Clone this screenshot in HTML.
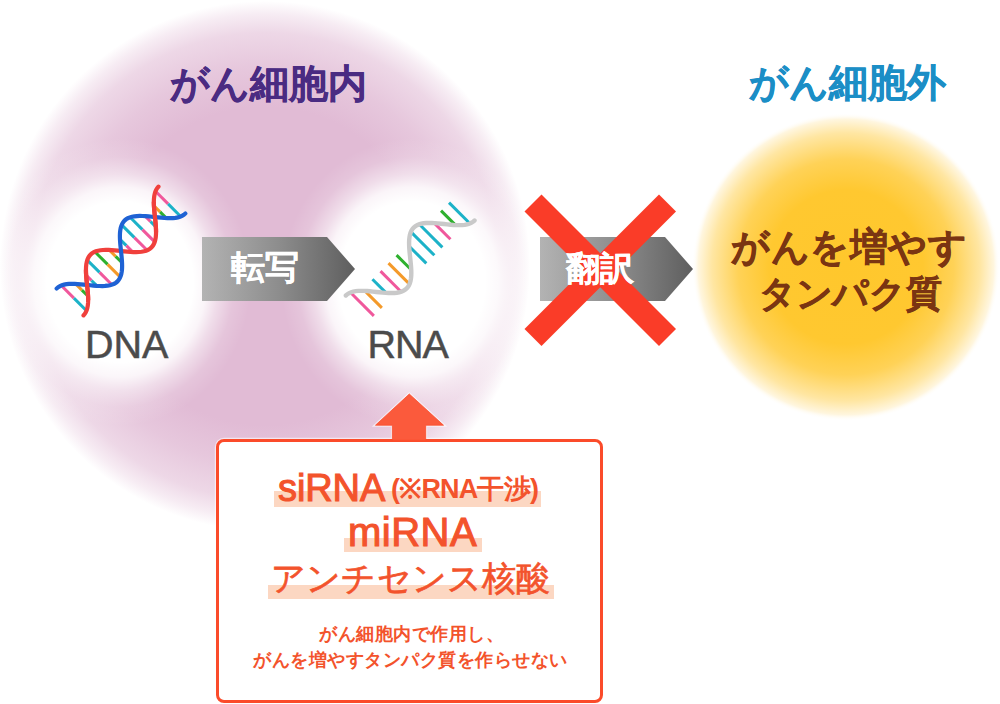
<!DOCTYPE html>
<html><head><meta charset="utf-8">
<style>
html,body{margin:0;padding:0;background:#fff;}
body{width:1000px;height:704px;position:relative;overflow:hidden;font-family:"Liberation Sans",sans-serif;}
.t{position:absolute;white-space:nowrap;line-height:1;}
.box{position:absolute;left:216px;top:439.3px;width:380.8px;height:257.5px;border:3px solid #fb4b2a;border-radius:8px;background:#fff;box-shadow:0 0 0 1.2px rgba(255,255,255,0.6);}
.hl{position:absolute;background:#fcd7c2;}
</style></head><body>
<svg width="1000" height="704" viewBox="0 0 1000 704" style="position:absolute;left:0;top:0">
<defs>
<linearGradient id="ga" x1="0" y1="0" x2="1" y2="0">
<stop offset="0" stop-color="#b3b3b3"/><stop offset="0.5" stop-color="#8d8d8d"/><stop offset="1" stop-color="#5e5e5e"/>
</linearGradient>
<radialGradient id="gp" cx="0.5" cy="0.5" r="0.5">
<stop offset="0" stop-color="#e1bbd5"/><stop offset="0.6" stop-color="#e1bbd5"/>
<stop offset="0.75" stop-color="#e1bbd5" stop-opacity="0.82"/><stop offset="0.88" stop-color="#e1bbd5" stop-opacity="0.58"/><stop offset="0.95" stop-color="#e1bbd5" stop-opacity="0.28"/><stop offset="1" stop-color="#e1bbd5" stop-opacity="0"/>
</radialGradient>
<radialGradient id="gy" cx="0.5" cy="0.5" r="0.5">
<stop offset="0" stop-color="#ffc72c"/><stop offset="0.5" stop-color="#ffc830"/><stop offset="0.7" stop-color="#ffd257"/>
<stop offset="0.87" stop-color="#ffe6a2"/><stop offset="0.96" stop-color="#fff6df"/><stop offset="1" stop-color="#ffffff" stop-opacity="0"/>
</radialGradient>
<radialGradient id="gw" cx="0.5" cy="0.5" r="0.5">
<stop offset="0" stop-color="#fff"/><stop offset="0.56" stop-color="#fff"/>
<stop offset="0.66" stop-color="#fff" stop-opacity="0.85"/><stop offset="0.75" stop-color="#fff" stop-opacity="0.5"/><stop offset="0.87" stop-color="#fff" stop-opacity="0.15"/><stop offset="1" stop-color="#fff" stop-opacity="0"/>
</radialGradient>
</defs>
<circle cx="265" cy="266" r="265" fill="url(#gp)"/>
<ellipse cx="120" cy="282" rx="131" ry="144" fill="url(#gw)"/>
<ellipse cx="412" cy="282" rx="131" ry="144" fill="url(#gw)"/>
<circle cx="846" cy="267" r="154" fill="url(#gy)"/>
<path d="M202,237 L327,237 L355,269 L327,301 L202,301 Z" fill="url(#ga)"/>
<path d="M540,237 L665,237 L693,269 L665,301 L540,301 Z" fill="url(#ga)"/>
<g stroke="#fa3c28" stroke-width="24">
<line x1="533" y1="203" x2="667.5" y2="337.5"/>
<line x1="667.5" y1="203" x2="533" y2="337.5"/>
</g>
<g transform="translate(121,251) rotate(-45)"><g stroke-width="3"><line x1="-66.6" y1="-17.83" x2="-66.6" y2="0" stroke="#f0589c"/><line x1="-66.6" y1="0" x2="-66.6" y2="17.83" stroke="#1cb2c8"/><line x1="-55.3" y1="-8.74" x2="-55.3" y2="0" stroke="#f49a2a"/><line x1="-55.3" y1="0" x2="-55.3" y2="8.74" stroke="#2eb02e"/><line x1="-41.7" y1="-7.61" x2="-41.7" y2="0" stroke="#f0589c"/><line x1="-41.7" y1="0" x2="-41.7" y2="7.61" stroke="#1cb2c8"/><line x1="-30.3" y1="-17.41" x2="-30.3" y2="0" stroke="#1cb2c8"/><line x1="-30.3" y1="0" x2="-30.3" y2="17.41" stroke="#f0589c"/><line x1="-19" y1="-17.99" x2="-19" y2="0" stroke="#2eb02e"/><line x1="-19" y1="0" x2="-19" y2="17.99" stroke="#f49a2a"/><line x1="-7.6" y1="-9.07" x2="-7.6" y2="0" stroke="#f49a2a"/><line x1="-7.6" y1="0" x2="-7.6" y2="9.07" stroke="#2eb02e"/><line x1="7.6" y1="-9.07" x2="7.6" y2="0" stroke="#1cb2c8"/><line x1="7.6" y1="0" x2="7.6" y2="9.07" stroke="#f0589c"/><line x1="19" y1="-17.99" x2="19" y2="0" stroke="#1cb2c8"/><line x1="19" y1="0" x2="19" y2="17.99" stroke="#f0589c"/><line x1="30.3" y1="-17.41" x2="30.3" y2="0" stroke="#1cb2c8"/><line x1="30.3" y1="0" x2="30.3" y2="17.41" stroke="#f0589c"/><line x1="41.7" y1="-7.61" x2="41.7" y2="0" stroke="#f0589c"/><line x1="41.7" y1="0" x2="41.7" y2="7.61" stroke="#1cb2c8"/><line x1="55.3" y1="-8.74" x2="55.3" y2="0" stroke="#f49a2a"/><line x1="55.3" y1="0" x2="55.3" y2="8.74" stroke="#2eb02e"/><line x1="66.6" y1="-17.83" x2="66.6" y2="0" stroke="#f0589c"/><line x1="66.6" y1="0" x2="66.6" y2="17.83" stroke="#1cb2c8"/></g><path d="M-72.0,19.00 L-70.0,18.84 L-68.0,18.35 L-66.0,17.55 L-64.0,16.45 L-62.0,15.07 L-60.0,13.44 L-58.0,11.57 L-56.0,9.50 L-54.0,7.27 L-52.0,4.92 L-50.0,2.48 L-48.0,-0.00 L-46.0,-2.48 L-44.0,-4.92 L-42.0,-7.27 L-40.0,-9.50 L-38.0,-11.57 L-36.0,-13.44 L-34.0,-15.07 L-32.0,-16.45 L-30.0,-17.55 L-28.0,-18.35 L-26.0,-18.84 L-24.0,-19.00 L-22.0,-18.84 L-20.0,-18.35 L-18.0,-17.55 L-16.0,-16.45 L-14.0,-15.07 L-12.0,-13.44 L-10.0,-11.57 L-8.0,-9.50 L-6.0,-7.27 L-4.0,-4.92 L-2.0,-2.48 L0.0,0.00 L2.0,2.48 L4.0,4.92 L6.0,7.27 L8.0,9.50 L10.0,11.57 L12.0,13.44 L14.0,15.07 L16.0,16.45 L18.0,17.55 L20.0,18.35 L22.0,18.84 L24.0,19.00 L26.0,18.84 L28.0,18.35 L30.0,17.55 L32.0,16.45 L34.0,15.07 L36.0,13.44 L38.0,11.57 L40.0,9.50 L42.0,7.27 L44.0,4.92 L46.0,2.48 L48.0,0.00 L50.0,-2.48 L52.0,-4.92 L54.0,-7.27 L56.0,-9.50 L58.0,-11.57 L60.0,-13.44 L62.0,-15.07 L64.0,-16.45 L66.0,-17.55 L68.0,-18.35 L70.0,-18.84 L72.0,-19.00" fill="none" stroke="#f0403c" stroke-width="4.2" stroke-linecap="round"/><path d="M-72.0,-19.00 L-70.0,-18.84 L-68.0,-18.35 L-66.0,-17.55 L-64.0,-16.45 L-62.0,-15.07 L-60.0,-13.44 L-58.0,-11.57 L-56.0,-9.50 L-54.0,-7.27 L-52.0,-4.92 L-50.0,-2.48 L-48.0,0.00 L-46.0,2.48 L-44.0,4.92 L-42.0,7.27 L-40.0,9.50 L-38.0,11.57 L-36.0,13.44 L-34.0,15.07 L-32.0,16.45 L-30.0,17.55 L-28.0,18.35 L-26.0,18.84 L-24.0,19.00 L-22.0,18.84 L-20.0,18.35 L-18.0,17.55 L-16.0,16.45 L-14.0,15.07 L-12.0,13.44 L-10.0,11.57 L-8.0,9.50 L-6.0,7.27 L-4.0,4.92 L-2.0,2.48 L0.0,-0.00 L2.0,-2.48 L4.0,-4.92 L6.0,-7.27 L8.0,-9.50 L10.0,-11.57 L12.0,-13.44 L14.0,-15.07 L16.0,-16.45 L18.0,-17.55 L20.0,-18.35 L22.0,-18.84 L24.0,-19.00 L26.0,-18.84 L28.0,-18.35 L30.0,-17.55 L32.0,-16.45 L34.0,-15.07 L36.0,-13.44 L38.0,-11.57 L40.0,-9.50 L42.0,-7.27 L44.0,-4.92 L46.0,-2.48 L48.0,-0.00 L50.0,2.48 L52.0,4.92 L54.0,7.27 L56.0,9.50 L58.0,11.57 L60.0,13.44 L62.0,15.07 L64.0,16.45 L66.0,17.55 L68.0,18.35 L70.0,18.84 L72.0,19.00" fill="none" stroke="#1f62d4" stroke-width="4.2" stroke-linecap="round"/><path d="M-58.0,11.57 L-57.0,10.56 L-56.0,9.50 L-55.0,8.40 L-54.0,7.27 L-53.0,6.11 L-52.0,4.92 L-51.0,3.71 L-50.0,2.48 L-49.0,1.24 L-48.0,-0.00 L-47.0,-1.24 L-46.0,-2.48 L-45.0,-3.71 L-44.0,-4.92 L-43.0,-6.11 L-42.0,-7.27 L-41.0,-8.40 L-40.0,-9.50 L-39.0,-10.56 L-38.0,-11.57" fill="none" stroke="#f0403c" stroke-width="4.2"/><path d="M38.0,11.57 L39.0,10.56 L40.0,9.50 L41.0,8.40 L42.0,7.27 L43.0,6.11 L44.0,4.92 L45.0,3.71 L46.0,2.48 L47.0,1.24 L48.0,0.00 L49.0,-1.24 L50.0,-2.48 L51.0,-3.71 L52.0,-4.92 L53.0,-6.11 L54.0,-7.27 L55.0,-8.40 L56.0,-9.50 L57.0,-10.56 L58.0,-11.57" fill="none" stroke="#f0403c" stroke-width="4.2"/></g>
<g transform="translate(410.2,258) rotate(-45)"><g stroke-width="3"><line x1="-66.6" y1="-17.83" x2="-66.6" y2="15.2" stroke="#f0589c"/><line x1="-55.3" y1="-8.74" x2="-55.3" y2="15.2" stroke="#f49a2a"/><line x1="-41.7" y1="7.61" x2="-41.7" y2="-11.7" stroke="#1cb2c8"/><line x1="-30.3" y1="17.41" x2="-30.3" y2="-11.7" stroke="#f0589c"/><line x1="-19" y1="17.99" x2="-19" y2="-11.7" stroke="#f49a2a"/><line x1="-7.6" y1="9.07" x2="-7.6" y2="-11.7" stroke="#2eb02e"/><line x1="7.6" y1="-9.07" x2="7.6" y2="15.2" stroke="#1cb2c8"/><line x1="19" y1="-17.99" x2="19" y2="15.2" stroke="#1cb2c8"/><line x1="30.3" y1="-17.41" x2="30.3" y2="15.2" stroke="#1cb2c8"/><line x1="41.7" y1="-7.61" x2="41.7" y2="15.2" stroke="#f0589c"/><line x1="55.3" y1="8.74" x2="55.3" y2="-11.7" stroke="#2eb02e"/><line x1="66.6" y1="17.83" x2="66.6" y2="-11.7" stroke="#1cb2c8"/></g><path d="M-72.0,-19.00 L-70.0,-18.84 L-68.0,-18.35 L-66.0,-17.55 L-64.0,-16.45 L-62.0,-15.07 L-60.0,-13.44 L-58.0,-11.57 L-56.0,-9.50 L-54.0,-7.27 L-52.0,-4.92 L-50.0,-2.48 L-48.0,0.00 L-46.0,2.48 L-44.0,4.92 L-42.0,7.27 L-40.0,9.50 L-38.0,11.57 L-36.0,13.44 L-34.0,15.07 L-32.0,16.45 L-30.0,17.55 L-28.0,18.35 L-26.0,18.84 L-24.0,19.00 L-22.0,18.84 L-20.0,18.35 L-18.0,17.55 L-16.0,16.45 L-14.0,15.07 L-12.0,13.44 L-10.0,11.57 L-8.0,9.50 L-6.0,7.27 L-4.0,4.92 L-2.0,2.48 L0.0,-0.00 L2.0,-2.48 L4.0,-4.92 L6.0,-7.27 L8.0,-9.50 L10.0,-11.57 L12.0,-13.44 L14.0,-15.07 L16.0,-16.45 L18.0,-17.55 L20.0,-18.35 L22.0,-18.84 L24.0,-19.00 L26.0,-18.84 L28.0,-18.35 L30.0,-17.55 L32.0,-16.45 L34.0,-15.07 L36.0,-13.44 L38.0,-11.57 L40.0,-9.50 L42.0,-7.27 L44.0,-4.92 L46.0,-2.48 L48.0,-0.00 L50.0,2.48 L52.0,4.92 L54.0,7.27 L56.0,9.50 L58.0,11.57 L60.0,13.44 L62.0,15.07 L64.0,16.45 L66.0,17.55 L68.0,18.35 L70.0,18.84 L72.0,19.00" fill="none" stroke="#c9c9c9" stroke-width="4.4" stroke-linecap="round"/></g>

</svg>
<div class="t" style="left:170px;top:63.5px;font-size:39px;font-weight:bold;color:#4a2b82;-webkit-text-stroke:0.4px #4a2b82">がん細胞内</div>
<div class="t" style="left:749px;top:63px;font-size:39px;font-weight:bold;color:#1b8ec6;-webkit-text-stroke:0.4px #1b8ec6">がん細胞外</div>
<div class="t" style="left:85px;top:325px;font-size:39.5px;color:#4b4b4b;-webkit-text-stroke:0.5px #4b4b4b">DNA</div>
<div class="t" style="left:367.5px;top:325px;font-size:39.5px;letter-spacing:-1px;color:#4b4b4b;-webkit-text-stroke:0.5px #4b4b4b">RNA</div>
<div class="t" style="left:231px;top:250px;font-size:34px;font-weight:bold;color:#fff;-webkit-text-stroke:0.2px #fff">転写</div>
<div class="t" style="left:566px;top:251px;font-size:34px;font-weight:bold;color:#fff;-webkit-text-stroke:0.2px #fff">翻訳</div>
<div class="t" style="left:731px;top:228px;font-size:38px;letter-spacing:0.6px;font-weight:bold;color:#7a3512;-webkit-text-stroke:0.5px #7a3512">がんを増やす</div>
<div class="t" style="left:759px;top:276px;font-size:36px;letter-spacing:-0.3px;font-weight:bold;color:#7a3512;-webkit-text-stroke:0.5px #7a3512">タンパク質</div>
<div class="box"></div>
<svg width="1000" height="704" style="position:absolute;left:0;top:0">
<path d="M392.4,438.6 L392.4,425.2 L375.5,425.2 L409.3,394 L443.5,425.2 L425.7,425.2 L425.7,438.6" fill="none" stroke="#fff" stroke-opacity="0.6" stroke-width="3" stroke-linejoin="miter"/>
<path d="M409.3,394 L443.5,425.2 L425.7,425.2 L425.7,440.2 L392.4,440.2 L392.4,425.2 L375.5,425.2 Z" fill="#fb5a3c" stroke="#fb4c2c" stroke-width="0.8"/>
</svg>
<div class="hl" style="left:273.5px;top:491px;width:267px;height:15.5px"></div>
<div class="hl" style="left:344px;top:538.4px;width:138px;height:14px"></div>
<div class="hl" style="left:267.5px;top:585px;width:286.5px;height:14px"></div>
<div class="t" style="left:278px;top:469px;font-size:38px;letter-spacing:-0.1px;color:#f3532c;-webkit-text-stroke:1.1px #f3532c">siRNA</div>
<div class="t" style="left:391px;top:476px;font-size:27px;letter-spacing:-0.8px;font-weight:bold;color:#f3532c">(※RNA干渉)</div>
<div class="t" style="left:348px;top:511.5px;font-size:40px;letter-spacing:0.5px;color:#f3532c;-webkit-text-stroke:1.1px #f3532c">miRNA</div>
<div class="t" style="left:271px;top:560.5px;font-size:34px;letter-spacing:0.2px;color:#f3532c;-webkit-text-stroke:0.7px #f3532c">アンチセンス核酸</div>
<div class="t" style="left:319px;top:625px;font-size:18px;letter-spacing:0.5px;font-weight:bold;color:#f3532c">がん細胞内で作用し、</div>
<div class="t" style="left:253px;top:650.5px;font-size:18px;letter-spacing:0.5px;font-weight:bold;color:#f3532c">がんを増やすタンパク質を作らせない</div>
</body></html>
